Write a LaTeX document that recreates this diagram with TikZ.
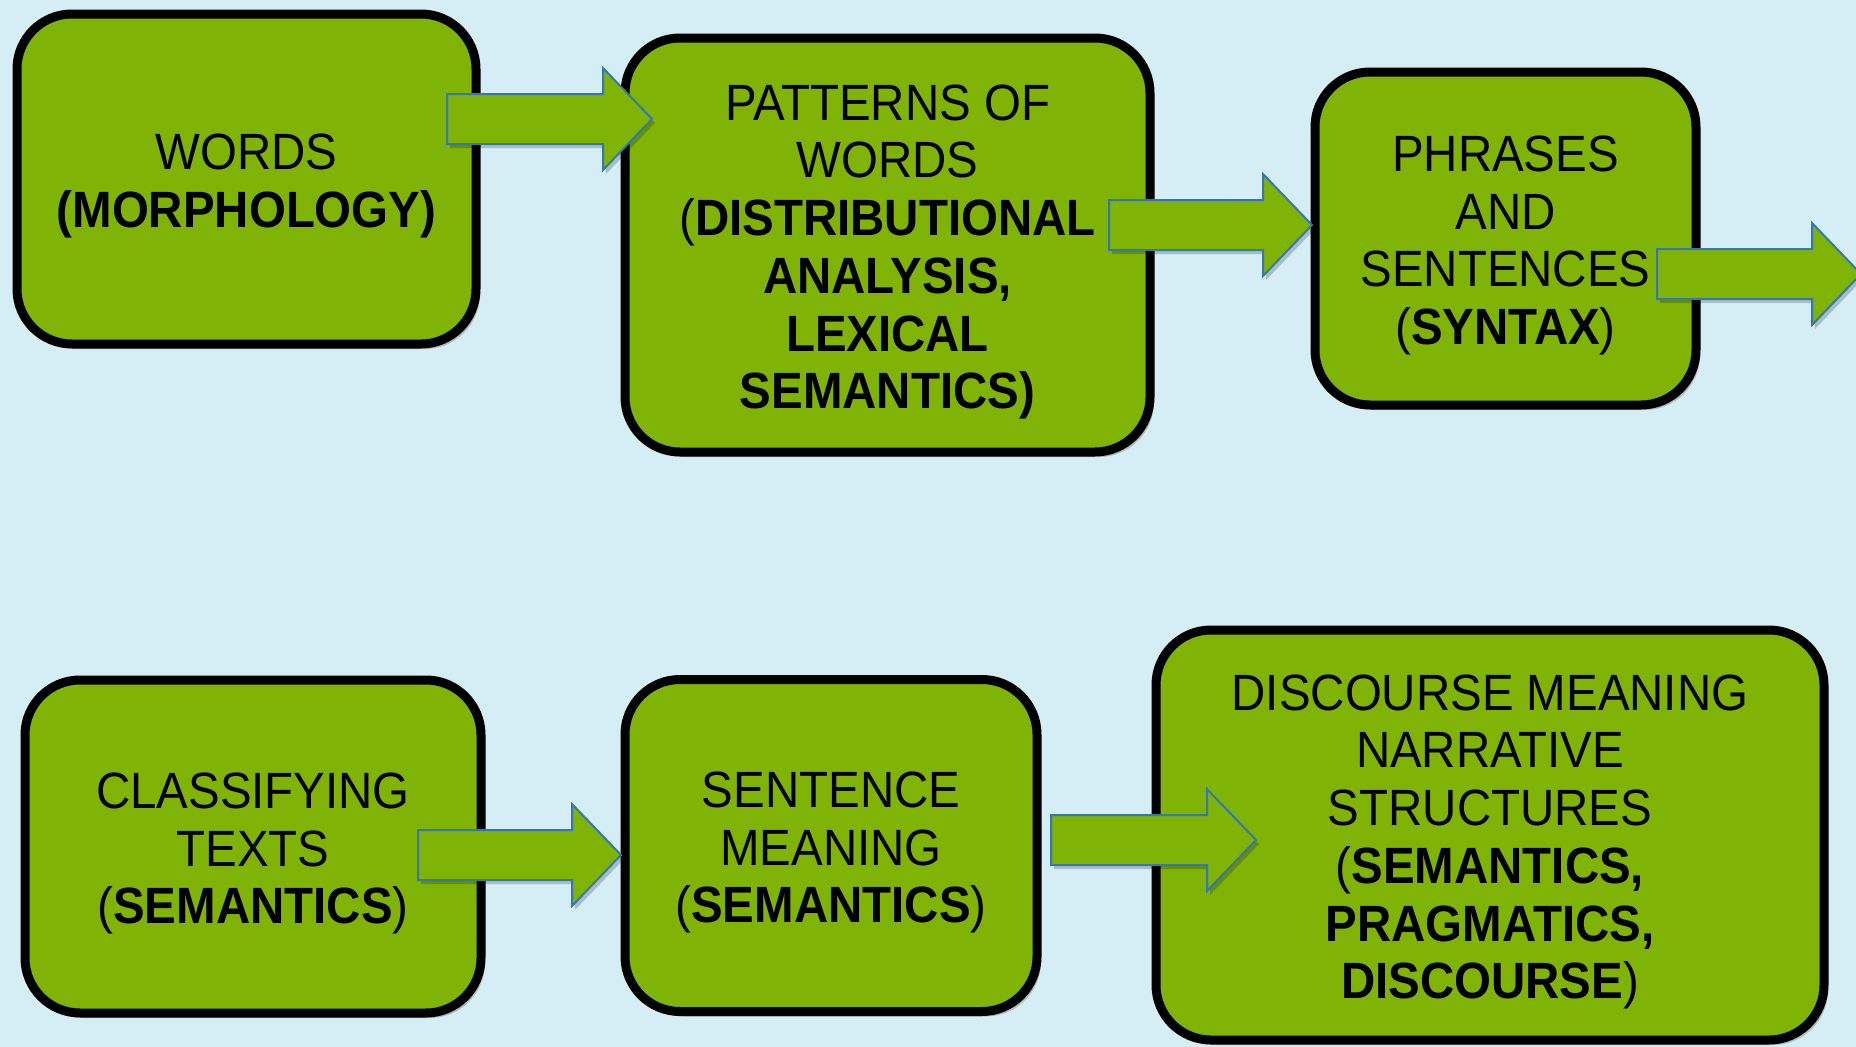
\documentclass[tikz,border=0pt]{standalone}
\usepackage{fontspec}
\setmainfont{Liberation Sans}[FakeStretch=0.93]
\usetikzlibrary{shadows,calc}
\definecolor{bg}{RGB}{213,237,245}
\definecolor{boxgreen}{RGB}{127,180,6}
\definecolor{arrowblue}{RGB}{52,120,175}
\tikzset{
  stage/.style={draw=black, line width=9pt, fill=boxgreen, rounded corners=55pt,
    inner sep=0pt, outer sep=0pt,
    drop shadow={shadow xshift=4pt, shadow yshift=-5pt, opacity=0.2, fill=black}},
  stagetext/.style={inner sep=0pt, align=center, font=\fontsize{51}{57.7}\selectfont},
  blockarrow/.style={draw=arrowblue, line width=2pt, fill=boxgreen, line join=miter,
    drop shadow={shadow xshift=3pt, shadow yshift=-4pt, opacity=0.2, fill=black}}
}
\newcommand\flowarrow[2]{%
  \draw[blockarrow] ($(#1)+(0,-25)$) -- ($(#2)+(-49,-25)$) -- ($(#2)+(-49,-51)$)
    -- (#2) -- ($(#2)+(-49,51)$) -- ($(#2)+(-49,25)$) -- ($(#1)+(0,25)$) -- cycle;}
\begin{document}
\begin{tikzpicture}[x=1pt,y=-1pt]
  \useasboundingbox (0,0) rectangle (1856,1047);
  \clip (0,0) rectangle (1856,1047);
  \fill[bg] (0,0) rectangle (1856,1047);

  \node[stage, minimum width=459pt, minimum height=330pt] (b1) at (246.5,179) {};
  \node[stage, minimum width=525pt, minimum height=414pt] (b2) at (887.5,245) {};
  \node[stage, minimum width=381pt, minimum height=333pt] (b3) at (1505.5,238.5) {};
  \node[stage, minimum width=456pt, minimum height=333pt] (b4) at (253,846.5) {};
  \node[stage, minimum width=412pt, minimum height=332pt] (b5) at (831,845.5) {};
  \node[stage, minimum width=668pt, minimum height=410pt] (b6) at (1490,835) {};

  \node[stagetext] (t1) at ([yshift=-7pt]b1.center)
    {WORDS\\\textbf{(MORPHOLOGY)}};
  \node[stagetext] (t2) at ([yshift=-7pt]b2.center)
    {PATTERNS OF\\WORDS\\(\textbf{DISTRIBUTIONAL}\\\textbf{ANALYSIS,}\\\textbf{LEXICAL}\\\textbf{SEMANTICS)}};
  \node[stagetext] (t3) at ([yshift=-7pt]b3.center)
    {PHRASES\\AND\\SENTENCES\\(\textbf{SYNTAX})};
  \node[stagetext] (t4) at ([yshift=-7pt]b4.center)
    {CLASSIFYING\\TEXTS\\(\textbf{SEMANTICS})};
  \node[stagetext] (t5) at ([yshift=-7pt]b5.center)
    {SENTENCE\\MEANING\\(\textbf{SEMANTICS})};
  \node[stagetext] (t6) at ([yshift=-7pt]b6.center)
    {DISCOURSE MEANING\\NARRATIVE\\STRUCTURES\\(\textbf{SEMANTICS,}\\\textbf{PRAGMATICS,}\\\textbf{DISCOURSE})};

  \coordinate (a1s) at (447,119);  \coordinate (a1t) at (652,119);
  \coordinate (a2s) at (1109,225); \coordinate (a2t) at (1312,225);
  \coordinate (a3s) at (1657,274); \coordinate (a3t) at (1861,274);
  \coordinate (a4s) at (418,855);  \coordinate (a4t) at (621,855);
  \coordinate (a5s) at (1051,840); \coordinate (a5t) at (1256,840);

  \flowarrow{a1s}{a1t}
  \flowarrow{a2s}{a2t}
  \flowarrow{a3s}{a3t}
  \flowarrow{a4s}{a4t}
  \flowarrow{a5s}{a5t}
\end{tikzpicture}
\end{document}
